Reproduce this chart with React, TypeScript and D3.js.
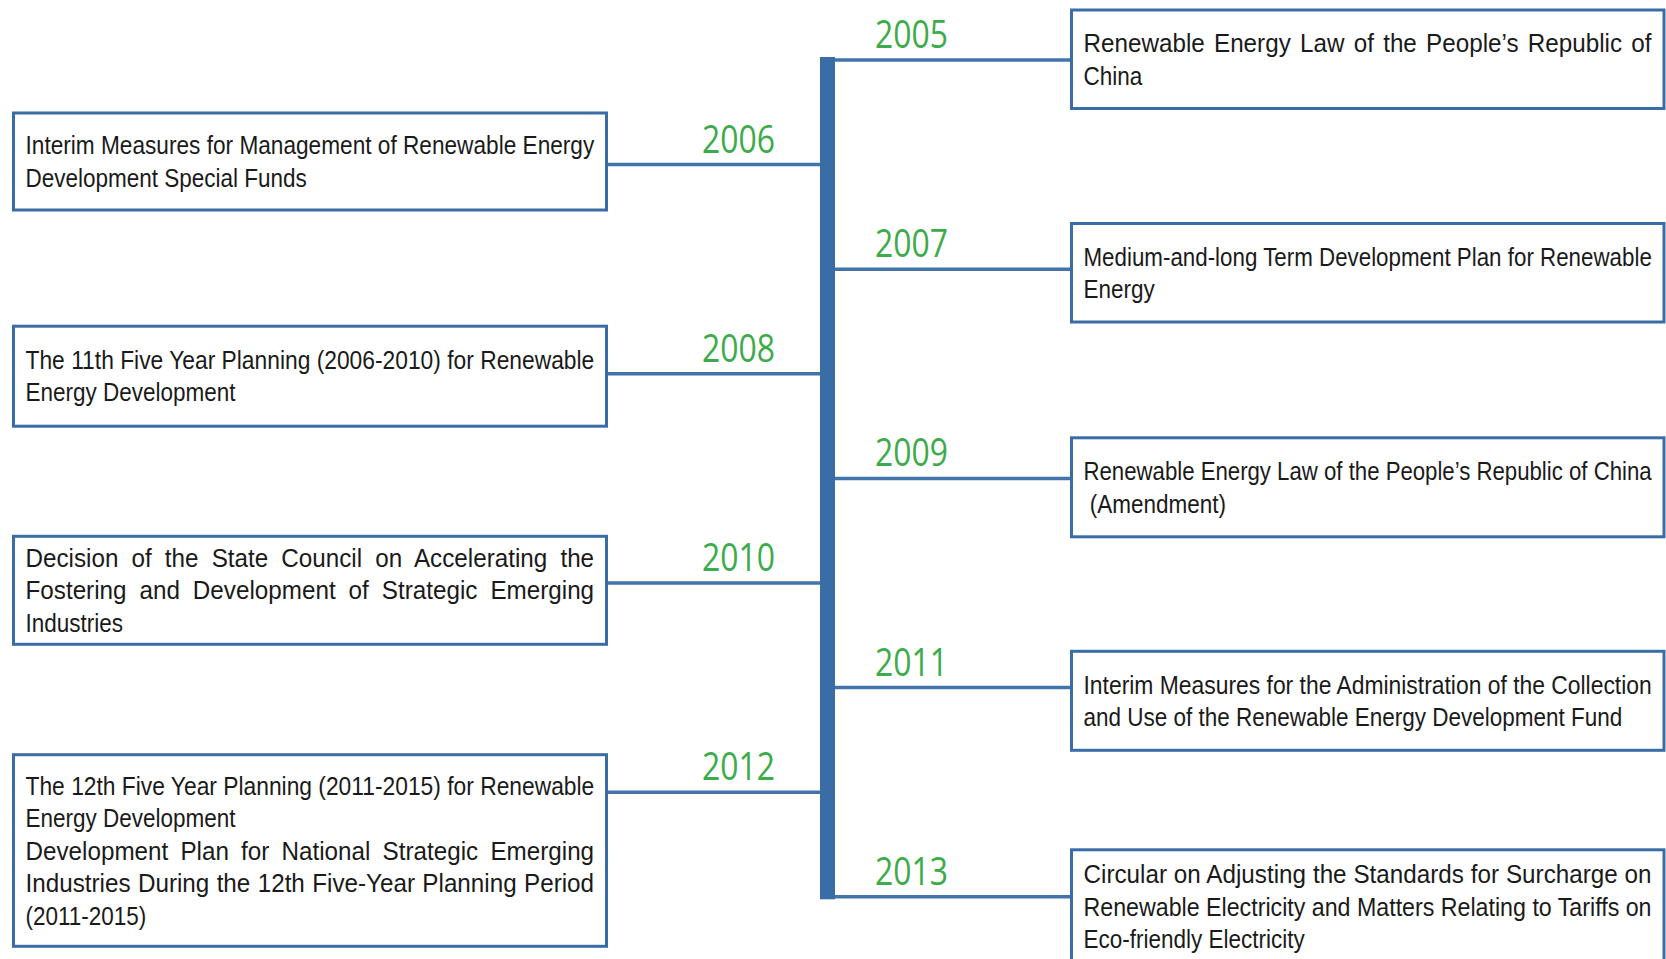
import React, { useEffect, useRef } from 'react';
import * as d3 from 'd3';

// timeline data
const years = [2005, 2006, 2007, 2008, 2009, 2010, 2011, 2012, 2013];
const sides = ['right', 'left', 'right', 'left', 'right', 'left', 'right', 'left', 'right'];

// each policy: list of paragraphs, each paragraph a list of lines
const policies: string[][][] = [
  [['Renewable Energy Law of the People\u2019s Republic of', 'China']],
  [['Interim Measures for Management of Renewable Energy', 'Development Special Funds']],
  [['Medium-and-long Term Development Plan for Renewable', 'Energy']],
  [['The 11th Five Year Planning (2006-2010) for Renewable', 'Energy Development']],
  [['Renewable Energy Law of the People\u2019s Republic of China', ' (Amendment)']],
  [['Decision of the State Council on Accelerating the', 'Fostering and Development of Strategic Emerging', 'Industries']],
  [['Interim Measures for the Administration of the Collection', 'and Use of the Renewable Energy Development Fund']],
  [
    ['The 12th Five Year Planning (2011-2015) for Renewable', 'Energy Development'],
    ['Development Plan for National Strategic Emerging', 'Industries During the 12th Five-Year Planning Period', '(2011-2015)'],
  ],
  [['Circular on Adjusting the Standards for Surcharge on', 'Renewable Electricity and Matters Relating to Tariffs on', 'Eco-friendly Electricity']],
];

// box placement relative to the year's connector line
const boxOffsets = [-50, -51.6, -45.7, -47.6, -40.6, -46.7, -36.3, -37.5, -47];
const boxHeights = [98.5, 97, 98.5, 100, 99, 108, 99, 191.6, 114];

const W = 1666;
const H = 959;
const BLUE = '#3a6ca5';
const GREEN = '#3cab4a';

export default function App() {
  const ref = useRef<SVGSVGElement>(null);

  useEffect(() => {
    const svg = d3.select(ref.current);
    svg.selectAll('*').remove();

    const y = d3.scaleLinear().domain([2005, 2013]).range([60, 896.8]);

    const spineX = 820;
    const spineW = 15;
    const leftBox = { x0: 13.5, x1: 606.5 };
    const rightBox = { x0: 1071.5, x1: 1664 };
    const padL = 12;
    const padR = 12;
    const lineH = 32.5;
    const cap = 18;
    const squeeze = 0.9;

    const items = years.map((yr, i) => ({
      yr,
      side: sides[i],
      cy: y(yr),
      box: sides[i] === 'left' ? leftBox : rightBox,
      top: y(yr) + boxOffsets[i],
      h: boxHeights[i],
      lines: policies[i].flatMap(p => p.map((t, j) => ({ t, justify: j < p.length - 1 }))),
    }));

    // connectors
    svg.append('g')
      .selectAll('line')
      .data(items)
      .enter()
      .append('line')
      .attr('x1', d => (d.side === 'left' ? d.box.x1 : spineX + spineW))
      .attr('x2', d => (d.side === 'left' ? spineX : d.box.x0))
      .attr('y1', d => d.cy)
      .attr('y2', d => d.cy)
      .attr('stroke', '#4273ab')
      .attr('stroke-width', 3.5);

    // spine
    svg.append('rect')
      .attr('x', spineX)
      .attr('y', y(2005) - 3)
      .attr('width', spineW)
      .attr('height', y(2013) - y(2005) + 5.5)
      .attr('fill', BLUE);

    // boxes
    svg.append('g')
      .selectAll('rect')
      .data(items)
      .enter()
      .append('rect')
      .attr('x', d => d.box.x0)
      .attr('y', d => d.top)
      .attr('width', d => d.box.x1 - d.box.x0)
      .attr('height', d => d.h)
      .attr('fill', '#fff')
      .attr('stroke', BLUE)
      .attr('stroke-width', 3);

    // box text
    items.forEach(d => {
      const inner = d.box.x1 - d.box.x0 - padL - padR;
      const n = d.lines.length;
      const first = d.top + d.h / 2 - ((n - 1) * lineH) / 2 + cap / 2;
      d.lines.forEach((ln, k) => {
        const t = svg.append('text')
          .attr('x', 0)
          .attr('y', 0)
          .attr('font-family', '"Liberation Sans", Arial, sans-serif')
          .attr('font-size', 25)
          .attr('fill', '#1a1a1a')
          .style('white-space', 'pre')
          .text(ln.t);
        const w = (t.node() as SVGTextElement).getComputedTextLength();
        let sx = squeeze;
        if (ln.justify) {
          // grow glyphs a little first, then spread the rest over the spaces
          sx = Math.min(0.97, inner / w);
          const spaces = (ln.t.match(/ /g) || []).length;
          const ws = spaces ? (inner / sx - w) / spaces : 0;
          if (ws > 0) t.attr('word-spacing', ws);
        } else if (w * sx > inner) {
          sx = inner / w;
        }
        t.attr('transform', `translate(${d.box.x0 + padL},${first + k * lineH}) scale(${sx},1)`);
      });
    });

    // year labels
    svg.append('g')
      .selectAll('text')
      .data(items)
      .enter()
      .append('text')
      .attr('transform', d => `translate(${d.side === 'left' ? spineX - 81.5 : spineX + 91.5},${d.cy - 12}) scale(0.84,1)`)
      .attr('text-anchor', 'middle')
      .attr('font-family', '"Open Sans", sans-serif')
      .attr('font-size', 38)
      .attr('fill', GREEN)
      .text(d => d.yr);
  }, []);

  return (
    <svg
      ref={ref}
      width={W}
      height={H}
      style={{ position: 'absolute', left: 0, top: 0, background: '#fff' }}
    />
  );
}
